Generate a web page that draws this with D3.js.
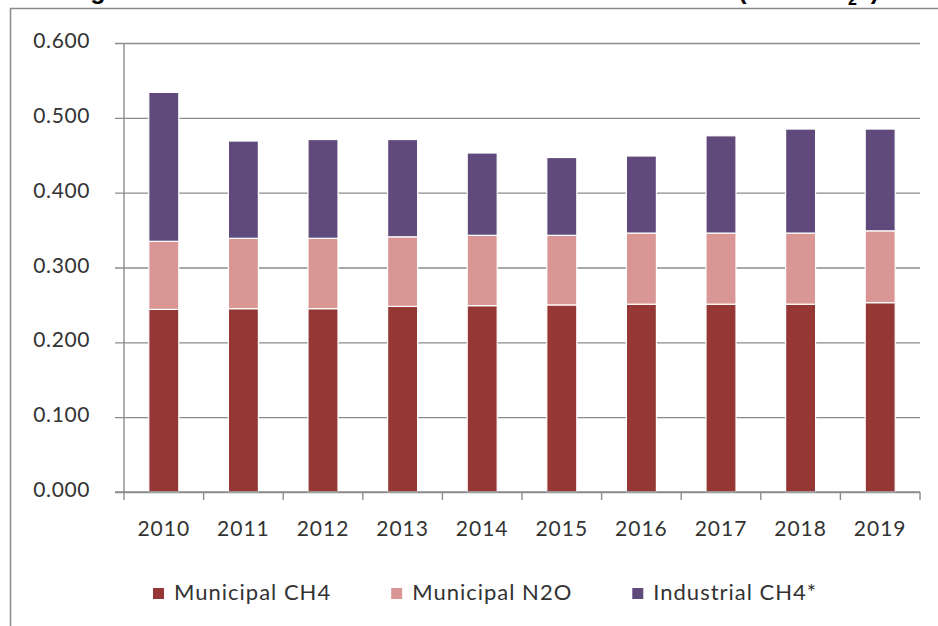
<!DOCTYPE html>
<html>
<head>
<meta charset="utf-8">
<script src="https://cdn.jsdelivr.net/npm/d3@7"></script>
<style>
  body { margin: 0; background: #fff; }
  svg { display: block; }
</style>
</head>
<body>
<div id="chart"></div>
<script>
// years along the bottom
var years = ["2010", "2011", "2012", "2013", "2014", "2015", "2016", "2017", "2018", "2019"];

// emissions per source, MMT CO2e
var municipalCH4 = [0.244, 0.245, 0.245, 0.248, 0.249, 0.250, 0.251, 0.251, 0.251, 0.253];
var municipalN2O = [0.091, 0.094, 0.094, 0.093, 0.094, 0.093, 0.095, 0.095, 0.095, 0.096];
var industrialCH4 = [0.199, 0.130, 0.132, 0.130, 0.110, 0.104, 0.103, 0.130, 0.139, 0.136];

var seriesNames = ["Municipal CH4", "Municipal N2O", "Industrial CH4*"];
var yTicks = [0, 0.1, 0.2, 0.3, 0.4, 0.5, 0.6];

var colors = ["#953735", "#d99694", "#604a7b"];

var W = 938, H = 626;
// plot area edges
var plotL = 124, plotR = 920, plotT = 43, plotB = 492;

var svg = d3.select("#chart").append("svg")
    .attr("width", W)
    .attr("height", H)
    .style("font-family", "Lato, 'Open Sans', sans-serif");

// title, mostly cut off by the top edge
var title = svg.append("text")
    .attr("x", 68)
    .attr("y", -1)
    .style("font-family", "'Liberation Sans', Arial, sans-serif")
    .style("font-weight", "bold")
    .style("font-size", "25px")
    .style("fill", "#000");
title.append("tspan").text("Figure 9. Wastewater Treatment Emissions 2010 to 2019 (MMT CO");
title.append("tspan").attr("dy", 6).style("font-size", "16px").text("2");
title.append("tspan").attr("dy", -6).text("e)");

// chart frame
svg.append("rect")
    .attr("x", 10.5)
    .attr("y", 8.5)
    .attr("width", W + 20)
    .attr("height", H + 20)
    .style("fill", "none")
    .style("stroke", "#8a8a8a")
    .style("stroke-width", 1.5);

// stack the three series
var rows = years.map(function(yr, i) {
    return { year: yr, s0: municipalCH4[i], s1: municipalN2O[i], s2: industrialCH4[i] };
});
var stacked = d3.stack().keys(["s0", "s1", "s2"])(rows);

var x = d3.scaleBand()
    .domain(years)
    .range([plotL, plotR])
    .paddingInner(0.623)
    .paddingOuter(0.3115);

var y = d3.scaleLinear()
    .domain([0, 0.6])
    .range([plotB, plotT]);

// gridlines + y labels
var yAxis = svg.append("g")
    .attr("transform", "translate(115,0)")
    .call(d3.axisLeft(y)
        .tickValues(yTicks)
        .tickSize(-(plotR - 115))
        .tickPadding(25)
        .tickFormat(d3.format(".3f")));
yAxis.select(".domain").remove();
yAxis.selectAll("line")
    .style("stroke", "#8c8c8c")
    .style("stroke-width", 1.4);
yAxis.selectAll("text")
    .attr("dy", "0.22em")
    .style("font-family", "Lato, 'Open Sans', sans-serif")
    .style("font-size", "21px")
    .style("letter-spacing", "0.6px")
    .style("fill", "#333");

// vertical axis line
svg.append("line")
    .attr("x1", plotL).attr("x2", plotL)
    .attr("y1", plotT).attr("y2", plotB)
    .style("stroke", "#8c8c8c")
    .style("stroke-width", 1.4);

// x tick marks between categories
var bounds = years.map(function(d) { return x(d) - x.step() * x.paddingOuter(); });
bounds.push(plotR);
svg.selectAll(".xtick")
    .data(bounds)
    .enter().append("line")
    .attr("class", "xtick")
    .attr("x1", function(d) { return d; })
    .attr("x2", function(d) { return d; })
    .attr("y1", plotB)
    .attr("y2", plotB + 8)
    .style("stroke", "#8c8c8c")
    .style("stroke-width", 1.4);

// x labels
svg.selectAll(".xlabel")
    .data(years)
    .enter().append("text")
    .attr("class", "xlabel")
    .attr("x", function(d) { return x(d) + x.bandwidth() / 2; })
    .attr("y", 536)
    .style("text-anchor", "middle")
    .style("font-size", "21px")
    .style("letter-spacing", "1px")
    .style("fill", "#333")
    .text(function(d) { return d; });

// bars
var layers = svg.selectAll(".layer")
    .data(stacked)
    .enter().append("g")
    .attr("class", "layer")
    .style("fill", function(d, i) { return colors[i]; });

layers.selectAll("rect")
    .data(function(d) { return d; })
    .enter().append("rect")
    .attr("x", function(d) { return x(d.data.year); })
    .attr("y", function(d) { return y(d[1]); })
    .attr("width", x.bandwidth())
    .attr("height", function(d) { return y(d[0]) - y(d[1]); })
    .style("stroke", "#fff")
    .style("stroke-width", 1.2);

// x axis line drawn over the bar bottoms
svg.append("line")
    .attr("x1", 115).attr("x2", plotR)
    .attr("y1", plotB).attr("y2", plotB)
    .style("stroke", "#8c8c8c")
    .style("stroke-width", 1.4);

// legend, laid out left to right
var lx = 153;
seriesNames.forEach(function(name, i) {
    svg.append("rect")
        .attr("x", lx)
        .attr("y", 588)
        .attr("width", 11)
        .attr("height", 11)
        .style("fill", colors[i]);
    var t = svg.append("text")
        .attr("x", lx + 21)
        .attr("y", 600)
        .style("font-size", "22px")
        .style("letter-spacing", "1px")
        .style("fill", "#333")
        .text(name);
    lx = lx + 21 + t.node().getComputedTextLength() + 60;
});
</script>
</body>
</html>
